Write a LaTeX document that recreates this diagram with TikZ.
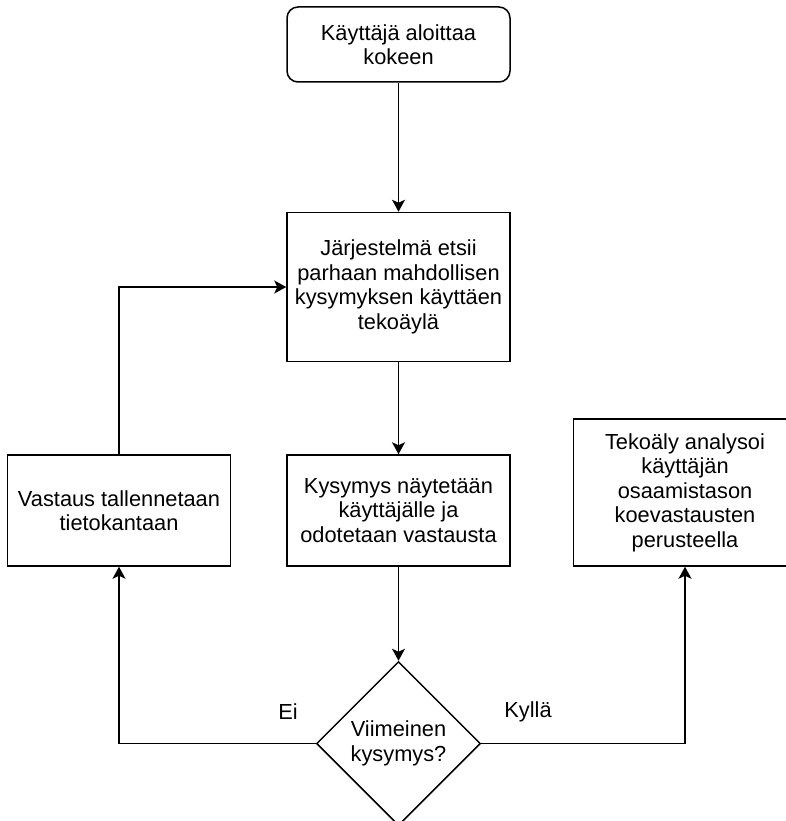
\documentclass[tikz,border=0pt]{standalone}
\usepackage{fontspec}
\setmainfont{Liberation Sans}
\usepackage{tikz}
\usetikzlibrary{positioning, shapes.geometric, arrows.meta}

\begin{document}
\begin{tikzpicture}[x=1pt, y=-1pt,
  font=\fontsize{21.8}{24.5}\selectfont, line width=1.5pt,
  box/.style={draw, minimum width=223pt, align=center, inner sep=4pt},
  startbox/.style={box, rounded corners=11pt, minimum height=75pt},
  choice/.style={draw, diamond, aspect=1, minimum size=164pt,
    inner sep=0pt, align=center},
  arr/.style={-{Stealth[length=12pt, width=13pt, inset=3pt]}}]

\useasboundingbox (0,0) rectangle (785,821);

\node[startbox] (start) at (398.5,44.5) {Käyttäjä aloittaa\\kokeen};
\node[box, minimum height=149pt, below=129pt of start] (haku)
  {Järjestelmä etsii\\parhaan mahdollisen\\kysymyksen käyttäen\\tekoäylä};
\node[box, minimum height=111pt, below=92pt of haku] (naytto)
  {Kysymys näytetään\\käyttäjälle ja\\odotetaan vastausta};
\node[choice, below=94pt of naytto] (paatos) {Viimeinen\\kysymys?};
\node[box, minimum height=111pt, left=55pt of naytto] (tallennus)
  {Vastaus tallennetaan\\tietokantaan};
\node[box, minimum height=147pt, anchor=south west] (analyysi)
  at ([xshift=62pt]naytto.south east)
  {Tekoäly analysoi\\käyttäjän\\osaamistason\\koevastausten\\perusteella};

\node (ei) at (288,712) {Ei};
\node (kylla) at (528,712) {Kyllä};

\draw[arr] (start) -- (haku);
\draw[arr] (haku) -- (naytto);
\draw[arr] (naytto) -- (paatos);
\draw[arr] (paatos.west) -| (tallennus.south);
\draw[arr] (tallennus.north) |- (haku.west);
\draw[arr] (paatos.east) -| (analyysi.south);

\end{tikzpicture}
\end{document}
